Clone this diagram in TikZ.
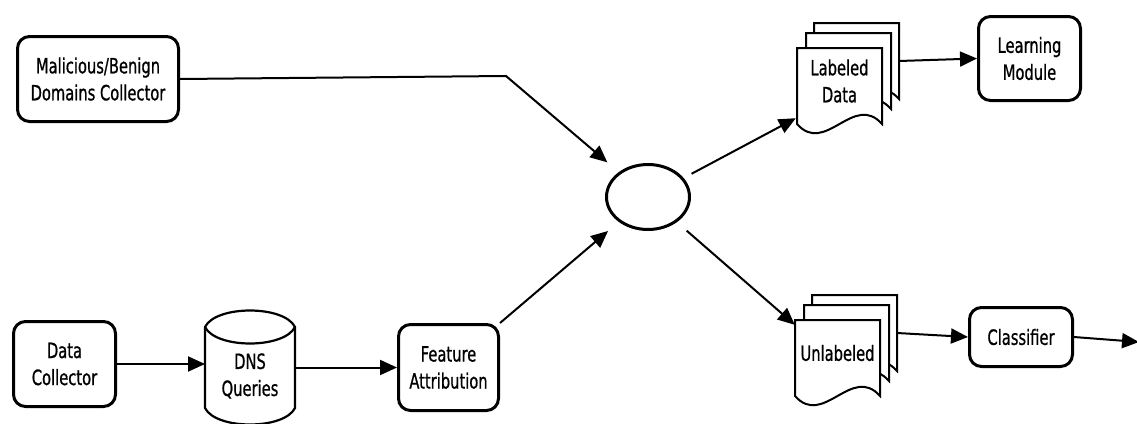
\documentclass[tikz,border=0pt]{standalone}
\usepackage{fontspec}
\setmainfont{DejaVu Sans}[FakeStretch=0.70, FakeBold=0.8]
\usetikzlibrary{arrows.meta,shapes.geometric}

% one stacked page with a wavy bottom edge, top-left corner at (#1,#2)
\newcommand\docpage[2]{%
  \draw[page,shift={(#1,#2)}] (0,0) -- (85,0) -- (85,76)
    .. controls (56.7,44) and (28.3,108) .. (0,76) -- cycle;}
% stack of three pages: name, front page top-left x, y, text
\newcommand\docstack[4]{%
  \docpage{#2+17}{#3-25}
  \docpage{#2+9}{#3-15}
  \docpage{#2}{#3}
  \node[inner sep=0pt, minimum width=85pt, minimum height=76pt] (#1) at (#2+42.5,#3+38) {};
  \node[align=center, inner sep=0pt] (#1-t) at (#2+42.5,#3+33) {#4};
  \coordinate (#1-r) at (#2+102,#3+13);}

\begin{document}
\begin{tikzpicture}[x=1pt, y=-1pt,
  font=\fontsize{21}{27}\selectfont,
  box/.style={draw, line width=3pt, rounded corners=12pt, align=center, inner sep=0pt},
  arr/.style={line width=2pt, -{Triangle[length=17pt,width=15pt]}},
  page/.style={draw, fill=white, line width=2pt, line join=miter},
  cyl/.style={draw, line width=2.2pt},
]
\useasboundingbox (0,0) rectangle (1137,423);

% processing boxes
\node[box, minimum width=161pt, minimum height=85pt] (mal) at (98,79) {Malicious/Benign\\Domains Collector};
\node[box, minimum width=102pt, minimum height=85pt] (dc) at (64.5,364) {Data\\Collector};
\node[box, minimum width=100pt, minimum height=86pt] (feat) at (448.5,367.5) {Feature\\Attribution};
\node[box, minimum width=102pt, minimum height=84pt] (learn) at (1029.5,58.5) {Learning\\Module};
\node[box, minimum width=103pt, minimum height=59pt] (clf) at (1021,337) {Classifier};

% merge point
\node[ellipse, draw, line width=3pt, minimum width=83pt, minimum height=65pt, inner sep=0pt] (circ) at (648,197) {};

% DNS query store
\draw[cyl] (205,327) .. controls (216,305) and (284,305) .. (295,327) -- (295,408)
  .. controls (284,430) and (216,430) .. (205,408) -- cycle;
\draw[cyl] (205,327) .. controls (216,349) and (284,349) .. (295,327);
\node[align=center, inner sep=0pt] (dns) at (250,376) {DNS\\Queries};
\coordinate (dnsL) at (205,367);
\coordinate (dnsR) at (295,367);

% data sets
\docstack{lab}{797}{48}{Labeled\\Data}
\docstack{unl}{795}{320}{Unlabeled}

% connectors
\coordinate (bend) at (506,76);
\coordinate (out) at (1139,342);
\draw[arr, shorten >=15pt] (mal.east) -- (bend) -- (circ);
\draw[arr] (dc.east) -- (dc.east -| dnsL);
\draw[arr] (dnsR |- feat.west) -- (feat.west);
\draw[arr, shorten >=14pt] (feat.north east) -- (circ);
\draw[arr, shorten <=9pt] (circ) -- ([xshift=-1pt,yshift=6pt]lab.south west);
\draw[arr, shorten <=13pt] (circ) -- ([yshift=-5pt]unl.north west);
\draw[arr] (lab-r) -- (learn.west);
\draw[arr] (unl-r) -- (clf.west);
\draw[arr] (clf.east) -- (out);
\end{tikzpicture}
\end{document}
